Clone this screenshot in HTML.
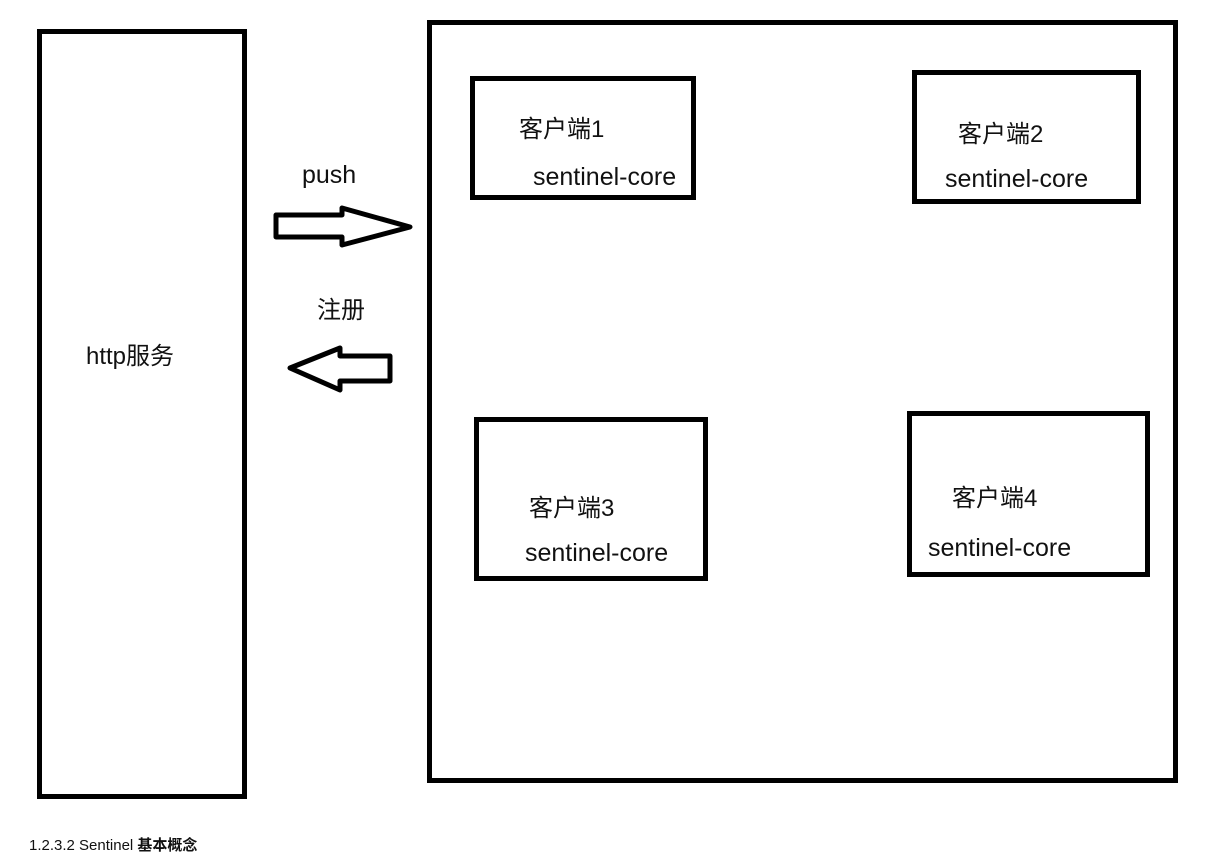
<!DOCTYPE html>
<html><head><meta charset="utf-8"><style>
body{margin:0;width:1228px;height:845px;background:#fff;overflow:hidden;position:relative;font-family:"Liberation Sans","Noto Sans CJK SC",sans-serif}
.b{position:absolute;border:5px solid #000;box-sizing:border-box}
.t{position:absolute;font-size:24px;color:#111;white-space:nowrap;line-height:1}
.s{font-size:25px}
</style></head><body>
<div class="b" style="left:37px;top:29px;width:210px;height:770px"></div>
<div class="b" style="left:427px;top:20px;width:751px;height:763px"></div>
<div class="b" style="left:470px;top:76px;width:226px;height:124px"></div>
<div class="b" style="left:912px;top:70px;width:229px;height:134px"></div>
<div class="b" style="left:474px;top:417px;width:234px;height:164px"></div>
<div class="b" style="left:907px;top:411px;width:243px;height:166px"></div>
<svg width="1228" height="845" style="position:absolute;left:0;top:0">
<polygon points="276,215 342,215 342,208 410,227 342,245 342,237 276,237" fill="none" stroke="#000" stroke-width="5" stroke-linejoin="round"/>
<polygon points="390,356 340,356 340,348 290,368 340,390 340,381 390,381" fill="none" stroke="#000" stroke-width="5" stroke-linejoin="round"/>
</svg>
<div class="t" style="left:86px;top:345px">http服务</div>
<div class="t s" style="left:302px;top:163px">push</div>
<div class="t" style="left:317px;top:299px">注册</div>
<div class="t" style="left:519px;top:118px">客户端1</div>
<div class="t s" style="left:533px;top:165px">sentinel-core</div>
<div class="t" style="left:958px;top:123px">客户端2</div>
<div class="t s" style="left:945px;top:167px">sentinel-core</div>
<div class="t" style="left:529px;top:497px">客户端3</div>
<div class="t s" style="left:525px;top:541px">sentinel-core</div>
<div class="t" style="left:952px;top:487px">客户端4</div>
<div class="t s" style="left:928px;top:536px">sentinel-core</div>
<div class="t" style="left:29px;top:838px;font-size:15px">1.2.3.2 Sentinel <b>基本概念</b></div>
</body></html>
